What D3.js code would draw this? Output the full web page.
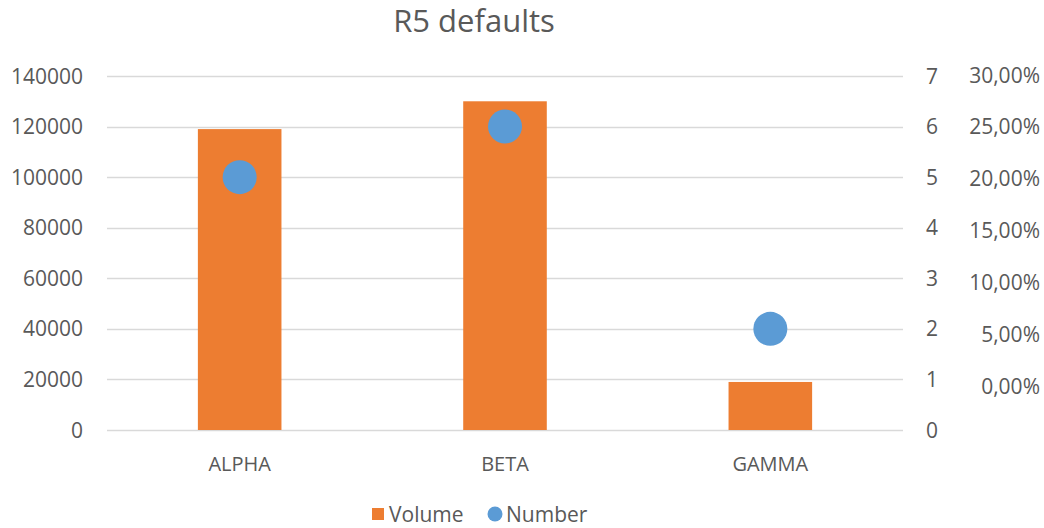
<!DOCTYPE html>
<html>
  <head>
    <meta charset="utf-8">
    <title>R5 defaults</title>
    <style>
      body { margin: 0; background: white; }
      text { font-family: "Open Sans", sans-serif; fill: #595959; }
    </style>
  </head>
  <body>
    <div id="chart"></div>
    <script src="https://d3js.org/d3.v7.min.js"></script>
    <script>
      // data
      var categories = ["ALPHA", "BETA", "GAMMA"];
      var volume = [119000, 130000, 19000];
      var number = [5, 6, 2];
      var volumeTicks = [0, 20000, 40000, 60000, 80000, 100000, 120000, 140000];
      var numberTicks = [0, 1, 2, 3, 4, 5, 6, 7];
      var pctTicks = [0, 0.05, 0.10, 0.15, 0.20, 0.25, 0.30];

      var width = 1044, height = 528;
      var svg = d3.select("#chart").append("svg")
        .attr("width", width)
        .attr("height", height);

      var x = d3.scaleBand().domain(categories).range([107, 903]);
      var yVol = d3.scaleLinear().domain([0, 140000]).range([430, 76]);
      var yNum = d3.scaleLinear().domain([0, 7]).range([430, 76]);
      var yPct = d3.scaleLinear().domain([0, 0.30]).range([386, 75]);

      // gridlines
      svg.append("g")
        .selectAll("line")
        .data(volumeTicks)
        .enter()
        .append("line")
        .attr("x1", 107)
        .attr("x2", 903)
        .attr("y1", function(d) { return Math.round(yVol(d)) + 0.5; })
        .attr("y2", function(d) { return Math.round(yVol(d)) + 0.5; })
        .attr("stroke", "#d9d9d9")
        .attr("stroke-width", 1.5);

      // left axis
      svg.append("g")
        .selectAll("text")
        .data(volumeTicks)
        .enter()
        .append("text")
        .attr("x", 83)
        .attr("y", function(d) { return yVol(d); })
        .attr("dy", "0.36em")
        .attr("text-anchor", "end")
        .style("font-size", "21px")
        .text(function(d) { return d; });

      // right axis (number)
      svg.append("g")
        .selectAll("text")
        .data(numberTicks)
        .enter()
        .append("text")
        .attr("x", 926)
        .attr("y", function(d) { return yNum(d); })
        .attr("dy", "0.36em")
        .attr("text-anchor", "start")
        .style("font-size", "21px")
        .text(function(d) { return d; });

      // far right axis (percent)
      var pctFmt = function(d) { return (d * 100).toFixed(2).replace(".", ",") + "%"; };
      svg.append("g")
        .selectAll("text")
        .data(pctTicks)
        .enter()
        .append("text")
        .attr("x", 1040)
        .attr("y", function(d) { return yPct(d); })
        .attr("dy", "0.36em")
        .attr("text-anchor", "end")
        .style("font-size", "21px")
        .text(pctFmt);

      // bars
      var barW = x.bandwidth() * 0.315;
      svg.append("g")
        .selectAll("rect")
        .data(categories)
        .enter()
        .append("rect")
        .attr("x", function(d) { return x(d) + x.bandwidth() / 2 - barW / 2; })
        .attr("width", barW)
        .attr("y", function(d, i) { return yVol(volume[i]); })
        .attr("height", function(d, i) { return yVol(0) - yVol(volume[i]); })
        .attr("fill", "#ed7d31");

      // dots
      svg.append("g")
        .selectAll("circle")
        .data(categories)
        .enter()
        .append("circle")
        .attr("cx", function(d) { return x(d) + x.bandwidth() / 2; })
        .attr("cy", function(d, i) { return yNum(number[i]); })
        .attr("r", 17)
        .attr("fill", "#5b9bd5");

      // category labels
      svg.append("g")
        .selectAll("text")
        .data(categories)
        .enter()
        .append("text")
        .attr("x", function(d) { return x(d) + x.bandwidth() / 2; })
        .attr("y", 464)
        .attr("dy", "0.36em")
        .attr("text-anchor", "middle")
        .style("font-size", "20px")
        .text(function(d) { return d; });

      // title
      svg.append("text")
        .attr("x", 474)
        .attr("y", 32)
        .attr("text-anchor", "middle")
        .style("font-size", "31px")
        .text("R5 defaults");

      // legend
      var legend = svg.append("g");
      legend.append("rect")
        .attr("x", 372).attr("y", 508)
        .attr("width", 12).attr("height", 12)
        .attr("fill", "#ed7d31");
      legend.append("text")
        .attr("x", 389).attr("y", 514)
        .attr("dy", "0.36em")
        .style("font-size", "21px")
        .text("Volume");
      legend.append("circle")
        .attr("cx", 495).attr("cy", 514)
        .attr("r", 7.5)
        .attr("fill", "#5b9bd5");
      legend.append("text")
        .attr("x", 506).attr("y", 514)
        .attr("dy", "0.36em")
        .style("font-size", "21px")
        .text("Number");
    </script>
  </body>
</html>
